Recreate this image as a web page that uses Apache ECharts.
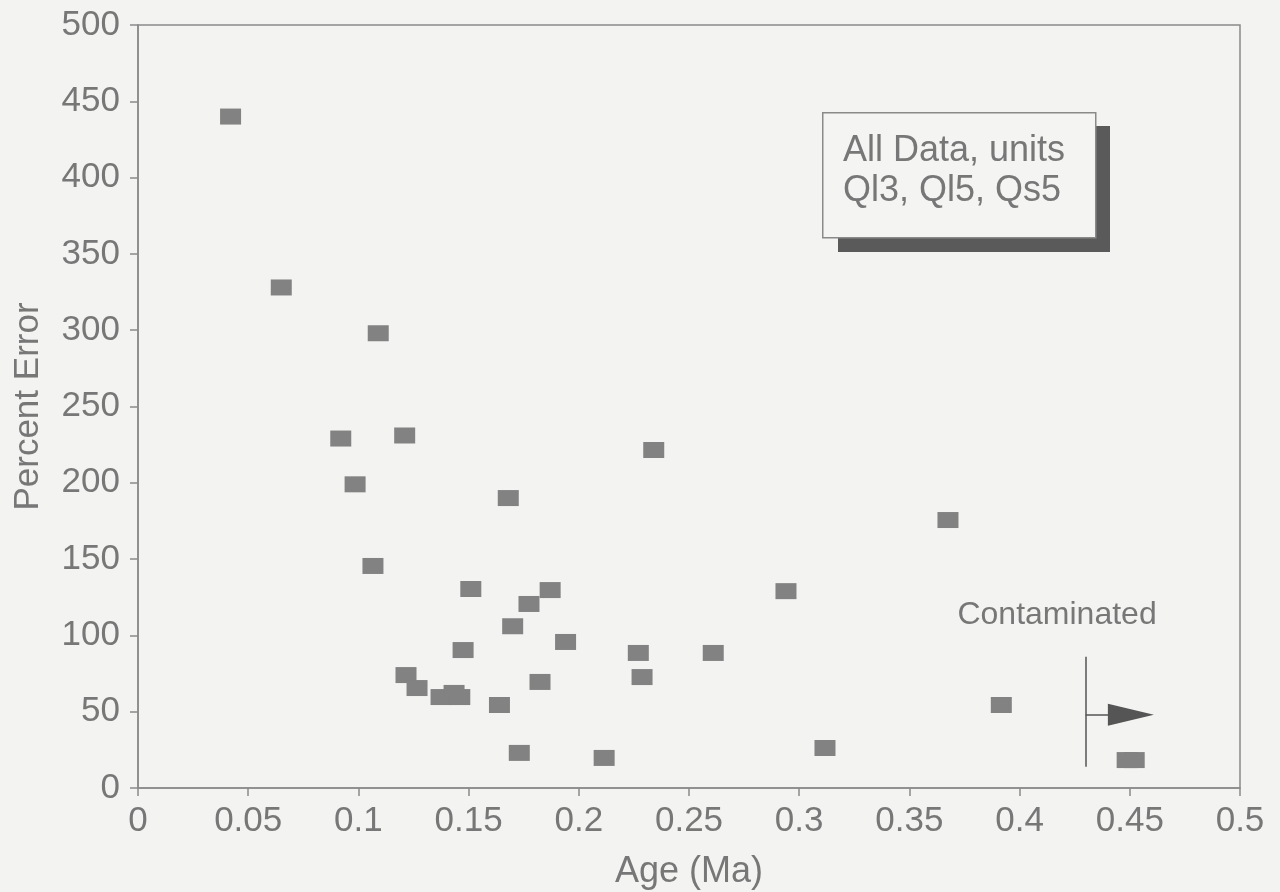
<!DOCTYPE html>
<html>
<head>
<meta charset="utf-8">
<script src="https://cdn.jsdelivr.net/npm/echarts@6/dist/echarts.min.js"></script>
<style>
html,body{margin:0;padding:0;background:#f3f3f1;}
#chart{width:1280px;height:892px;}
</style>
</head>
<body>
<div id="chart"></div>
<script>
// Data
var ages = [0.042, 0.065, 0.109, 0.092, 0.121, 0.0985, 0.234, 0.168, 0.3675, 0.1066,
            0.151, 0.187, 0.1774, 0.294, 0.170, 0.194, 0.1475, 0.227, 0.261, 0.1216,
            0.1266, 0.2287, 0.1824, 0.1375, 0.1434, 0.146, 0.164, 0.3917, 0.173, 0.2115,
            0.3117, 0.4488, 0.452];
var percentErrors = [440, 328, 298, 229, 231, 199, 221.5, 190, 175.6, 145.5,
                     130.4, 129.7, 120.6, 129, 106, 95.7, 90.4, 88.5, 88.5, 74,
                     65.5, 72.7, 69.5, 59.6, 62.3, 59.6, 54.4, 54.4, 23, 19.7,
                     26.2, 18.3, 18.3];
var xTicks = [0, 0.05, 0.1, 0.15, 0.2, 0.25, 0.3, 0.35, 0.4, 0.45, 0.5];
var yTicks = [0, 50, 100, 150, 200, 250, 300, 350, 400, 450, 500];
var legendLines = ['All Data, units', 'Ql3, Ql5, Qs5'];
var contaminatedLabel = 'Contaminated';
var contaminatedMarker = { x: 0.43, yLow: 14, yHigh: 86, arrowY: 48, arrowEnd: 0.4505, labelX: 0.417, labelY: 113 };

var points = ages.map(function (a, i) { return [a, percentErrors[i]]; });

var txt = '#777777';
var font = 'Liberation Sans';
var chart = echarts.init(document.getElementById('chart'));
chart.setOption({
  backgroundColor: '#f3f3f1',
  animation: false,
  grid: { left: 138, right: 40, top: 25, bottom: 104, outerBoundsMode: 'none', containLabel: false,
          show: true, borderColor: '#8a8a8a', borderWidth: 1.5, backgroundColor: 'transparent' },
  xAxis: {
    type: 'value', min: 0, max: 0.5, interval: 0.05,
    name: 'Age (Ma)', nameLocation: 'middle', nameGap: 66,
    nameTextStyle: { color: txt, fontSize: 36, fontFamily: font },
    axisLine: { lineStyle: { color: '#8a8a8a', width: 1.5 } },
    axisTick: { show: true, length: 8, inside: false, lineStyle: { color: '#8a8a8a', width: 1.5 } },
    axisLabel: { color: txt, fontSize: 35, fontFamily: font, margin: 16,
      formatter: function (v) { var r = Math.round(v * 100) / 100; return xTicks.indexOf(r) >= 0 ? String(r) : ''; } },
    splitLine: { show: false }
  },
  yAxis: {
    type: 'value', min: 0, max: 500, interval: 50,
    name: 'Percent Error', nameLocation: 'middle', nameGap: 92,
    nameTextStyle: { color: txt, fontSize: 35, fontFamily: font },
    axisLine: { show: true, lineStyle: { color: '#8a8a8a', width: 1.5 } },
    axisTick: { show: true, length: 8, inside: false, lineStyle: { color: '#8a8a8a', width: 1.5 } },
    axisLabel: { color: txt, fontSize: 35, fontFamily: font, margin: 18,
      formatter: function (v) { return yTicks.indexOf(v) >= 0 ? String(v) : ''; } },
    splitLine: { show: false }
  },
  series: [{
    type: 'scatter',
    data: points,
    symbol: 'rect',
    symbolSize: [21, 16],
    itemStyle: { color: '#828282', opacity: 1 },
    markLine: {
      silent: true, animation: false,
      label: { show: false },
      data: [
        [{ coord: [contaminatedMarker.x, contaminatedMarker.yLow], symbol: 'none' },
         { coord: [contaminatedMarker.x, contaminatedMarker.yHigh], symbol: 'none' }],
        [{ coord: [contaminatedMarker.x, contaminatedMarker.arrowY], symbol: 'none' },
         { coord: [contaminatedMarker.arrowEnd, contaminatedMarker.arrowY], symbol: 'triangle', symbolSize: [22, 46] }]
      ],
      lineStyle: { color: '#555', width: 1.5, type: 'solid' },
      itemStyle: { color: '#666' }
    },
    markPoint: {
      silent: true,
      symbol: 'rect', symbolSize: 1, itemStyle: { color: 'transparent' },
      data: [{ coord: [contaminatedMarker.labelX, contaminatedMarker.labelY],
        label: { show: true, formatter: contaminatedLabel, color: txt, fontSize: 32, fontFamily: font, position: 'inside' } }]
    }
  }],
  graphic: [
    { type: 'rect', left: 838, top: 126, shape: { width: 272, height: 126 }, style: { fill: '#5a5a5a' }, z: 10 },
    { type: 'rect', left: 822, top: 112, shape: { width: 273, height: 125 }, style: { fill: '#f4f4f2', stroke: '#8a8a8a', lineWidth: 1.5 }, z: 11 },
    { type: 'text', left: 843, top: 131, style: { text: legendLines.join('\n'), fill: txt, fontSize: 36, fontFamily: font, lineHeight: 40 }, z: 12 }
  ]
});
</script>
</body>
</html>
